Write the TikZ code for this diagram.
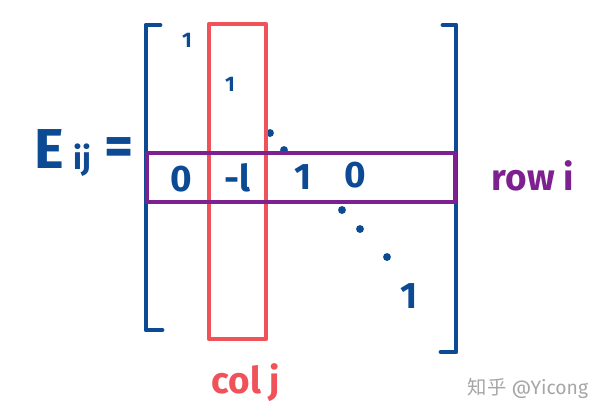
\documentclass[tikz,border=0pt]{standalone}
\usepackage{fontspec}
\setmainfont{Fira Sans}
\newfontfamily\cjk{Noto Sans CJK SC}
\definecolor{inkblue}{HTML}{0D4A94}
\definecolor{inkred}{HTML}{F0525A}
\definecolor{inkpurple}{HTML}{7E2190}
\begin{document}
\begin{tikzpicture}[x=0.02cm,y=-0.02cm,
  entry/.style={text=inkblue,font=\bfseries\fontsize{21}{21}\selectfont,inner sep=0pt},
  small entry/.style={text=inkblue,font=\bfseries\fontsize{12}{12}\selectfont,inner sep=0pt},
  bracket/.style={draw=inkblue,line width=2.8pt,line cap=round,line join=round},
  box/.style={line width=2.4pt,line join=round},
  dot/.style={circle,fill=inkblue,inner sep=0pt,minimum size=4.5pt}]
  \useasboundingbox (0,0) rectangle (600,417);

  % brackets of the matrix
  \draw[bracket] (160,25) -- (146,25) -- (146,330) -- (162,330);
  \draw[bracket] (443,25) -- (456,25) -- (456,352) -- (441,352);

  % entries
  \node[small entry] (a11) at (187,40) {1};
  \node[small entry] (a22) at (230,84) {1};
  \node[dot] (d1) at (270,133) {};
  \node[dot] (d2) at (284,150) {};
  \node[entry] (ri0) at (181,179) {0};
  \node[entry] (rij) at (237,178) {-l};
  \node[entry] (rii) at (303,177) {1};
  \node[entry] (ri1) at (355,175) {0};
  \node[dot] (d3) at (342,210) {};
  \node[dot] (d4) at (360,229) {};
  \node[dot] (d5) at (387,257) {};
  \node[entry] (ann) at (409,296) {1};

  % row and column
  \draw[box,draw=inkred] (209,24) rectangle (266,339);
  \draw[box,draw=inkpurple] (147,153) rectangle (455,202);

  % labels
  \node[text=inkblue,font=\bfseries\fontsize{32}{32}\selectfont,inner sep=0pt] (E) at (49,149) {E};
  \node[text=inkblue,font=\bfseries\fontsize{18}{18}\selectfont,inner sep=0pt] (ij) at (82,160) {ij};
  \node[text=inkblue,font=\bfseries\fontsize{32}{32}\selectfont,inner sep=0pt] (eq) at (119,152) {=};
  \node[text=inkpurple,font=\bfseries\fontsize{21}{21}\selectfont,inner sep=0pt] (row) at (533,176) {row i};
  \node[text=inkred,font=\bfseries\fontsize{21}{21}\selectfont,inner sep=0pt] (col) at (246,383) {col j};
  \node[text=black!35,font=\fontsize{11}{11}\selectfont,inner sep=0pt] (mark) at (528,388) {{\cjk 知乎} @Yicong};
\end{tikzpicture}
\end{document}
